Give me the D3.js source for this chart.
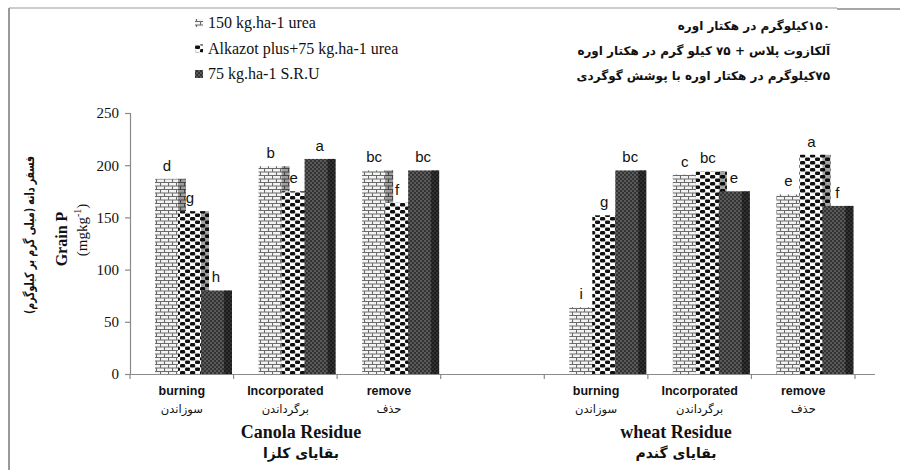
<!DOCTYPE html>
<html>
<head>
<meta charset="utf-8">
<script src="https://cdn.jsdelivr.net/npm/d3@7"></script>
<style>
  html, body { margin: 0; padding: 0; background: #fff; }
  svg { display: block; }
</style>
</head>
<body>
<svg id="chart" width="900" height="470"></svg>
<script>
// Residue management × nitrogen source: grain phosphorus (mg/kg)
const groups = ["Canola Residue", "wheat Residue"];
const groupsFa = ["بقایای کلزا", "بقایای گندم"];
const treatments = ["burning", "Incorporated", "remove"];
const treatmentsFa = ["سوزاندن", "برگرداندن", "حذف"];
const seriesNames = ["150 kg.ha-1 urea", "Alkazot plus+75 kg.ha-1 urea", "75 kg.ha-1 S.R.U"];
const seriesNamesFa = [
  "۱۵۰کیلوگرم در هکتار اوره",
  "آلکازوت پلاس + ۷۵ کیلو گرم در هکتار اوره",
  "۷۵کیلوگرم در هکتار اوره با پوشش گوگردی"
];
// order: canola burning, incorporated, remove, wheat burning, incorporated, remove
const urea150 = [187, 199, 195, 64, 191, 172];
const alkazot = [156, 175, 164, 152, 194, 210];
const sru     = [80, 206, 195, 195, 175, 161];
const letters150 = ["d", "b", "bc", "i", "c", "e"];
const lettersAlk = ["g", "e", "f", "g", "bc", "a"];
const lettersSru = ["h", "a", "bc", "bc", "e", "f"];
const yTicks = [0, 50, 100, 150, 200, 250];

const seriesValues = [urea150, alkazot, sru];
const seriesLetters = [letters150, lettersAlk, lettersSru];

const svg = d3.select("#chart");
const defs = svg.append("defs");

// brick pattern
const pBrick = defs.append("pattern").attr("id", "pBrick").attr("patternUnits", "userSpaceOnUse")
  .attr("width", 8).attr("height", 7);
pBrick.append("rect").attr("width", 8).attr("height", 7).attr("fill", "#f4f4f4");
pBrick.append("path").attr("d", "M0,0.5H8M0,4H8M0.5,0V4M4.5,4V7")
  .attr("stroke", "#6a6a6a").attr("stroke-width", 1.1).attr("fill", "none");

// black / white checker pattern
const pCheck = defs.append("pattern").attr("id", "pCheck").attr("patternUnits", "userSpaceOnUse")
  .attr("width", 10).attr("height", 7);
pCheck.append("rect").attr("width", 10).attr("height", 7).attr("fill", "#fafafa");
pCheck.append("rect").attr("x", 0).attr("y", 0.1).attr("width", 5.2).attr("height", 3.4).attr("rx", 1.3).attr("fill", "#111");
pCheck.append("rect").attr("x", 5).attr("y", 3.6).attr("width", 5.2).attr("height", 3.4).attr("rx", 1.3).attr("fill", "#111");

// dense dark pattern
const pDark = defs.append("pattern").attr("id", "pDark").attr("patternUnits", "userSpaceOnUse")
  .attr("width", 4).attr("height", 4);
pDark.append("rect").attr("width", 4).attr("height", 4).attr("fill", "#333");
pDark.append("rect").attr("x", 0).attr("y", 0).attr("width", 2).attr("height", 2).attr("fill", "#5a5a5a");
pDark.append("rect").attr("x", 2).attr("y", 2).attr("width", 2).attr("height", 2).attr("fill", "#5a5a5a");

const fills = ["url(#pBrick)", "url(#pCheck)", "url(#pDark)"];
const shade = [0.35, 0.35, 0.45];

// frame
svg.append("line").attr("x1", 9).attr("x2", 837).attr("y1", 8).attr("y2", 8)
  .attr("stroke", "#bbb").attr("stroke-width", 1.5);
svg.append("line").attr("x1", 837).attr("x2", 900).attr("y1", 9).attr("y2", 9)
  .attr("stroke", "#888").attr("stroke-width", 1.5);
svg.append("line").attr("x1", 9).attr("x2", 9).attr("y1", 8).attr("y2", 470)
  .attr("stroke", "#999").attr("stroke-width", 2);

// scales
const slots = ["c0", "c1", "c2", "gap", "w0", "w1", "w2"];
const slotOf = i => (i < 3 ? "c" + i : "w" + (i - 3));
const x = d3.scaleBand().domain(slots).range([130, 855]).paddingInner(0).paddingOuter(0);
const y = d3.scaleLinear().domain([0, 250]).range([374, 113]);

const barW = 31, barStep = 23, barOff = 25;

// y axis
const yAxis = svg.append("g").attr("transform", "translate(130,0)")
  .call(d3.axisLeft(y).tickValues(yTicks).tickSize(5).tickSizeOuter(5).tickPadding(6));
yAxis.select(".domain").attr("stroke", "#8a8a8a").attr("stroke-width", 1.2);
yAxis.selectAll(".tick line").attr("stroke", "#8a8a8a").attr("stroke-width", 1.2);
yAxis.selectAll(".tick text").attr("font-family", "'Liberation Serif', 'Times New Roman', serif")
  .attr("font-size", 15).attr("fill", "#111");

// x axis: line with ticks at slot boundaries
const xg = svg.append("g");
xg.append("line").attr("x1", 127).attr("x2", 875).attr("y1", 374.5).attr("y2", 374.5)
  .attr("stroke", "#8a8a8a").attr("stroke-width", 1.2);
xg.selectAll("line.xt").data(slots.concat(["end"])).join("line").attr("class", "xt")
  .attr("x1", (d, i) => 130 + i * x.step()).attr("x2", (d, i) => 130 + i * x.step())
  .attr("y1", 374.5).attr("y2", 379).attr("stroke", "#8a8a8a").attr("stroke-width", 1.2);

// bars
const bars = svg.append("g");
for (let i = 0; i < 6; i++) {
  const x0 = x(slotOf(i)) + barOff;
  for (let s = 0; s < 3; s++) {
    const v = seriesValues[s][i];
    const bx = x0 + s * barStep;
    bars.append("rect").attr("x", bx).attr("y", y(v)).attr("width", barW).attr("height", y(0) - y(v))
      .attr("fill", fills[s]);
    bars.append("rect").attr("x", bx + barW - 8).attr("y", y(v)).attr("width", 8).attr("height", y(0) - y(v))
      .attr("fill", "#000").attr("opacity", shade[s]);
  }
}

// significance letters
const lab = svg.append("g").attr("font-family", "'Liberation Sans', Arial, sans-serif")
  .attr("font-size", 15).attr("fill", "#111").attr("text-anchor", "middle");
for (let i = 0; i < 6; i++) {
  const x0 = x(slotOf(i)) + barOff;
  for (let s = 0; s < 3; s++) {
    const v = seriesValues[s][i];
    const cx = x0 + s * barStep + (s === 2 ? 15 : 12);
    lab.append("text").attr("x", cx).attr("y", y(v) - 8).text(seriesLetters[s][i]);
  }
}

// category labels
const cat = svg.append("g").attr("text-anchor", "middle").attr("fill", "#111");
for (let i = 0; i < 6; i++) {
  const cx = x(slotOf(i)) + x.bandwidth() / 2;
  cat.append("text").attr("x", cx).attr("y", 395)
    .attr("font-family", "'Liberation Sans', Arial, sans-serif").attr("font-weight", "bold")
    .attr("font-size", 12.5).text(treatments[i % 3]);
  cat.append("text").attr("x", cx).attr("y", 413)
    .attr("font-family", "'DejaVu Sans', sans-serif").attr("font-size", 11.5)
    .attr("direction", "rtl").text(treatmentsFa[i % 3]);
}

// group titles
const gx = [301, 676];
groups.forEach((g, k) => {
  svg.append("text").attr("x", gx[k]).attr("y", 438).attr("text-anchor", "middle")
    .attr("font-family", "'Liberation Serif', 'Times New Roman', serif").attr("font-weight", "bold")
    .attr("font-size", 18).attr("fill", "#111").text(g);
  svg.append("text").attr("x", gx[k]).attr("y", 458).attr("text-anchor", "middle")
    .attr("font-family", "'DejaVu Sans', sans-serif").attr("font-weight", "bold")
    .attr("font-size", 14).attr("direction", "rtl").attr("fill", "#111").text(groupsFa[k]);
});

// y axis titles
svg.append("text").attr("transform", "translate(34,235) rotate(-90)").attr("text-anchor", "middle")
  .attr("font-family", "'DejaVu Sans', sans-serif").attr("font-size", 13).attr("font-weight", "bold")
  .attr("textLength", 158).attr("lengthAdjust", "spacingAndGlyphs")
  .attr("direction", "rtl").attr("fill", "#111").text("فسفر دانه (میلی گرم بر کیلوگرم)");
svg.append("text").attr("transform", "translate(67,239) rotate(-90)").attr("text-anchor", "middle")
  .attr("font-family", "'Liberation Serif', 'Times New Roman', serif").attr("font-weight", "bold")
  .attr("font-size", 16).attr("fill", "#111").text("Grain P");
const unit = svg.append("text").attr("transform", "translate(87,230) rotate(-90)").attr("text-anchor", "middle")
  .attr("font-family", "'Liberation Serif', 'Times New Roman', serif").attr("font-size", 15).attr("fill", "#111");
unit.append("tspan").text("(mgkg");
unit.append("tspan").attr("dy", -6).attr("font-size", 10).text("-1");
unit.append("tspan").attr("dy", 6).text(")");

// legend (English)
const leg = svg.append("g");
seriesNames.forEach((n, s) => {
  const yy = 23 + s * 25.5;
  leg.append("rect").attr("x", 195).attr("y", yy - 4).attr("width", 8).attr("height", 8).attr("fill", fills[s]);
  leg.append("text").attr("x", 208).attr("y", yy + 5)
    .attr("font-family", "'Liberation Serif', 'Times New Roman', serif").attr("font-size", 16)
    .attr("fill", "#111").text(n);
});

// legend (Persian)
seriesNamesFa.forEach((n, s) => {
  svg.append("text").attr("x", 830).attr("y", 30 + s * 25).attr("text-anchor", "start")
    .attr("direction", "rtl").attr("font-family", "'DejaVu Sans', sans-serif").attr("font-weight", "bold")
    .attr("font-size", 12).attr("fill", "#111").text(n);
});
</script>
</body>
</html>
